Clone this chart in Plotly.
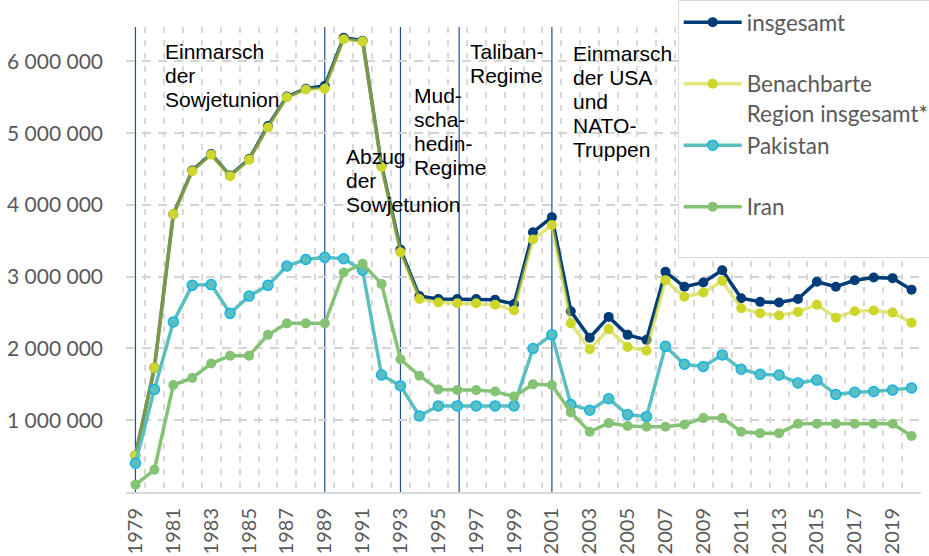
import plotly.graph_objects as go

years = list(range(1979, 2021))

insgesamt = [510000, 1730000, 3870000, 4480000, 4710000, 4410000, 4640000, 5100000, 5510000, 5620000,
             5660000, 6330000, 6290000, 4550000, 3380000, 2730000, 2690000, 2690000, 2690000, 2680000,
             2620000, 3620000, 3830000, 2520000, 2150000, 2440000, 2190000, 2120000, 3070000, 2860000,
             2920000, 3090000, 2700000, 2650000, 2640000, 2690000, 2930000, 2860000, 2950000, 2990000,
             2980000, 2820000]

benachbarte = [510000, 1730000, 3870000, 4470000, 4700000, 4400000, 4630000, 5080000, 5500000, 5610000,
               5620000, 6310000, 6280000, 4530000, 3340000, 2690000, 2640000, 2630000, 2630000, 2610000,
               2530000, 3520000, 3720000, 2350000, 1990000, 2270000, 2020000, 1970000, 2950000, 2720000,
               2780000, 2940000, 2560000, 2490000, 2460000, 2510000, 2610000, 2430000, 2520000, 2530000,
               2500000, 2360000]

pakistan = [400000, 1430000, 2370000, 2880000, 2890000, 2490000, 2730000, 2880000, 3150000, 3240000,
            3270000, 3250000, 3090000, 1630000, 1480000, 1060000, 1200000, 1200000, 1200000, 1200000,
            1200000, 2000000, 2190000, 1220000, 1140000, 1300000, 1080000, 1050000, 2030000, 1780000,
            1750000, 1910000, 1710000, 1640000, 1630000, 1520000, 1560000, 1360000, 1390000, 1400000,
            1420000, 1450000]

iran = [100000, 310000, 1490000, 1590000, 1790000, 1900000, 1900000, 2190000, 2350000, 2350000,
        2350000, 3060000, 3180000, 2900000, 1850000, 1620000, 1430000, 1420000, 1420000, 1400000,
        1330000, 1500000, 1490000, 1110000, 840000, 960000, 920000, 910000, 910000, 940000,
        1030000, 1030000, 840000, 820000, 820000, 950000, 950000, 950000, 950000, 950000,
        950000, 780000]

x_tick_years = list(range(1979, 2020, 2))
y_ticks = [1000000, 2000000, 3000000, 4000000, 5000000, 6000000]

event_years = [1979, 1989, 1993, 1996.1, 2001]

event_labels = [
    (1980.44, 6320000, ["Einmarsch", "der", "Sowjetunion"]),
    (1990.0, 4860000, ["Abzug", "der", "Sowjetunion"]),
    (1993.6, 5720000, ["Mud-", "scha-", "hedin-", "Regime"]),
    (1996.57, 6320000, ["Taliban-", "Regime"]),
    (2002.0, 6300000, ["Einmarsch", "der USA", "und", "NATO-", "Truppen"]),
]

NB = "\u00a0"

fig = go.Figure()

fig.add_trace(go.Scatter(
    x=years, y=insgesamt, name="insgesamt" + "<br>" + NB, mode="lines+markers",
    line=dict(color="#003c78", width=3.5),
    marker=dict(color="#003c78", size=10),
))
fig.add_trace(go.Scatter(
    x=years, y=benachbarte, name="Benachbarte<br>Region insgesamt*", mode="lines+markers",
    line=dict(color="rgba(205,214,41,0.6)", width=3.5),
    marker=dict(color="#cdd629", size=10),
))
fig.add_trace(go.Scatter(
    x=years, y=pakistan, name="Pakistan" + "<br>" + NB, mode="lines+markers",
    line=dict(color="#5bbfbf", width=3.5),
    marker=dict(color="#5bbfbf", size=10, line=dict(color="#12b2ea", width=1.5)),
))
fig.add_trace(go.Scatter(
    x=years, y=iran, name="Iran" + "<br>" + NB, mode="lines+markers",
    line=dict(color="#84c274", width=3.5),
    marker=dict(color="#84c274", size=10),
))

for ev in event_years:
    fig.add_shape(type="line", xref="x", yref="paper", x0=ev, x1=ev, y0=0, y1=1,
                  line=dict(color="#1f4f8f", width=1.2), layer="below")

for (lx, ly, lines) in event_labels:
    for i, t in enumerate(lines):
        fig.add_annotation(x=lx, y=ly, xref="x", yref="y", text=t, showarrow=False,
                           xanchor="left", yanchor="top", yshift=-24 * i,
                           font=dict(family="Liberation Sans, Arial", size=21, color="#000000"))

fig.update_layout(
    width=929, height=556,
    margin=dict(l=126, r=8, t=27, b=64, autoexpand=False),
    paper_bgcolor="white", plot_bgcolor="white",
    separators=", ",
    font=dict(family="Lato", color="#595959"),
    showlegend=True,
    legend=dict(
        x=0.694, y=1.058, xanchor="left", yanchor="top",
        bgcolor="white", bordercolor="#d9d9d9", borderwidth=1,
        font=dict(family="Lato", size=22.5, color="#595959"),
        valign="top", itemwidth=58, tracegroupgap=0,
    ),
    hovermode=False,
)

fig.update_xaxes(
    range=[1978.5, 2020.5], tickmode="array", tickvals=x_tick_years,
    ticktext=[str(v) for v in x_tick_years], tickangle=-90,
    tickfont=dict(family="Lato", size=20, color="#595959"),
    showgrid=False, zeroline=False,
    showline=True, linecolor="#d9d9d9", linewidth=2,
    ticklabelstandoff=6,
    minor=dict(tick0=1978.5, dtick=1, showgrid=True, gridcolor="#d9d9d9",
               griddash="6px,7px", gridwidth=1.5),
)
fig.update_yaxes(
    range=[0, 6480000], tickmode="array", tickvals=y_ticks, tickformat=",d",
    tickfont=dict(family="Lato", size=21, color="#595959"),
    showgrid=True, gridcolor="#d4d4d4", griddash="9px,7px", gridwidth=1.5,
    zeroline=False, showline=False, ticklabelstandoff=22,
)

fig.write_html("out.html", config={"displayModeBar": False},
               post_script="document.body.style.margin='0px';")
